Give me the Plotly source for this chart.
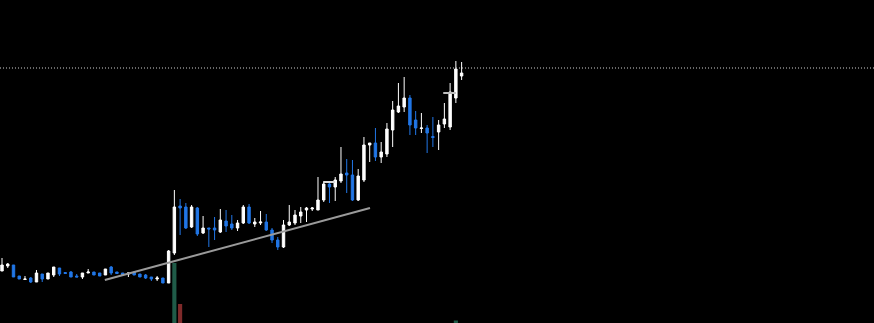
import plotly.graph_objects as go

opens = [5.2,5.7,5.8,4.7,4.35,4.5,4.1,4.9,4.4,4.8,5.5,5.05,5.1,4.7,4.6,5.0,5.1,5.0,4.8,5.6,
         5.1,5.0,4.9,5.1,4.9,4.8,4.6,4.4,4.5,4.0,7.0,11.7,11.6,9.6,11.5,9.0,9.5,9.5,9.1,10.2,
         9.9,9.5,10.0,11.6,9.9,10.0,10.1,9.3,8.3,7.6,9.8,10.0,10.7,11.3,11.4,11.3,12.3,13.9,13.6,14.2,
         15.0,14.8,12.3,14.3,17.8,18.0,16.6,16.9,19.3,21.1,21.6,22.5,20.3,19.45,19.5,18.65,19.1,19.9,19.6,22.5,
         24.7]
highs = [6.5,6.0,5.8,4.7,4.7,4.6,5.3,4.9,5.0,5.6,5.5,5.05,5.2,4.9,5.0,5.4,5.1,5.0,5.4,5.7,
         5.1,5.0,5.0,5.1,4.9,4.9,4.6,4.7,4.5,7.3,13.3,12.4,12.0,11.8,11.6,10.7,9.5,10.6,11.4,11.3,
         10.8,10.3,11.8,11.9,10.5,11.2,10.9,9.5,8.6,10.3,11.8,11.3,11.6,11.6,11.6,14.6,14.1,14.2,14.6,17.6,
         16.4,16.3,15.4,18.6,18.0,19.5,18.1,20.0,22.2,24.0,24.6,22.8,21.2,21.0,19.8,20.6,20.3,22.0,24.0,26.2,
         26.1]
lows = [5.2,5.5,4.6,4.4,4.35,4.0,4.1,4.1,4.4,4.6,4.7,4.95,4.6,4.6,4.4,5.0,4.8,4.7,4.8,4.8,
        4.95,4.8,4.6,4.8,4.6,4.4,4.2,4.2,4.0,4.0,6.8,8.8,9.4,9.5,8.7,8.9,7.6,8.3,9.0,9.1,
        9.3,9.2,9.9,9.9,9.6,9.8,9.2,8.0,7.3,7.5,9.7,9.8,10.0,10.1,11.2,11.3,12.1,12.0,12.2,14.0,
        13.0,12.2,12.2,14.1,16.1,16.2,16.0,16.6,17.6,21.0,21.1,18.8,18.8,19.0,17.0,17.6,17.3,19.5,19.3,22.0,
        24.3]
closes = [5.8,5.9,4.6,4.4,4.4,4.1,5.0,4.4,5.0,5.6,4.9,4.95,4.6,4.6,5.0,5.1,4.8,4.7,5.4,5.0,
          4.95,4.8,5.0,4.8,4.6,4.5,4.4,4.5,4.0,7.2,11.6,11.5,9.5,11.6,8.9,9.5,9.4,9.3,10.3,9.7,
          9.5,10.0,11.6,10.0,10.1,10.1,9.3,8.3,7.6,9.8,10.1,10.8,11.1,11.5,11.5,12.3,13.9,13.6,14.3,14.9,
          14.8,12.3,14.7,17.8,18.0,16.6,17.1,19.4,21.3,21.7,22.5,19.8,19.5,19.5,19.0,18.55,19.8,20.4,23.1,25.4,
          25.0]
volumes = [0]*30 + [60, 19] + [0]*47 + [2.5, 0]

trend_x = [17.9, 64.05]
trend_y = [4.3, 11.5]
level_price = 25.5
seg1_x, seg1_y = [55.9, 58.0], 14.1
seg2_x, seg2_y = [76.8, 79.0], 23.0

idx = list(range(len(opens)))
UP = "#ffffff"
DOWN = "#2176e6"
vol_colors = ["#1f5b48" if c >= o else "#7f2a2a" for o, c in zip(opens, closes)]

fig = go.Figure()
fig.add_trace(go.Bar(x=idx, y=volumes, marker=dict(color=vol_colors, line=dict(width=0)),
                     width=0.72, yaxis="y2", hoverinfo="skip"))
fig.add_trace(go.Candlestick(x=idx, open=opens, high=highs, low=lows, close=closes,
                             increasing=dict(line=dict(color=UP, width=1), fillcolor=UP),
                             decreasing=dict(line=dict(color=DOWN, width=1), fillcolor=DOWN),
                             whiskerwidth=0, hoverinfo="skip"))
fig.add_trace(go.Scatter(x=trend_x, y=trend_y, mode="lines",
                         line=dict(color="#9a9a9a", width=2), hoverinfo="skip"))
fig.add_trace(go.Scatter(x=seg1_x, y=[seg1_y]*2, mode="lines",
                         line=dict(color="#d8d8d8", width=2), hoverinfo="skip"))
fig.add_trace(go.Scatter(x=seg2_x, y=[seg2_y]*2, mode="lines",
                         line=dict(color="#bdbdbd", width=2), hoverinfo="skip"))
fig.add_hline(y=level_price, line=dict(color="#d0d0d0", width=1, dash="1px,2px"))

fig.update_layout(
    width=874, height=323, margin=dict(l=0, r=0, t=0, b=0),
    paper_bgcolor="#000000", plot_bgcolor="#000000",
    showlegend=False, boxgap=0.4,
    xaxis=dict(range=[-0.35, -0.35 + 874/5.745], visible=False, rangeslider=dict(visible=False)),
    yaxis=dict(range=[0, 32.3], visible=False),
    yaxis2=dict(range=[0, 323], visible=False, overlaying="y"),
)
fig.write_html("out.html", config={"displayModeBar": False})
